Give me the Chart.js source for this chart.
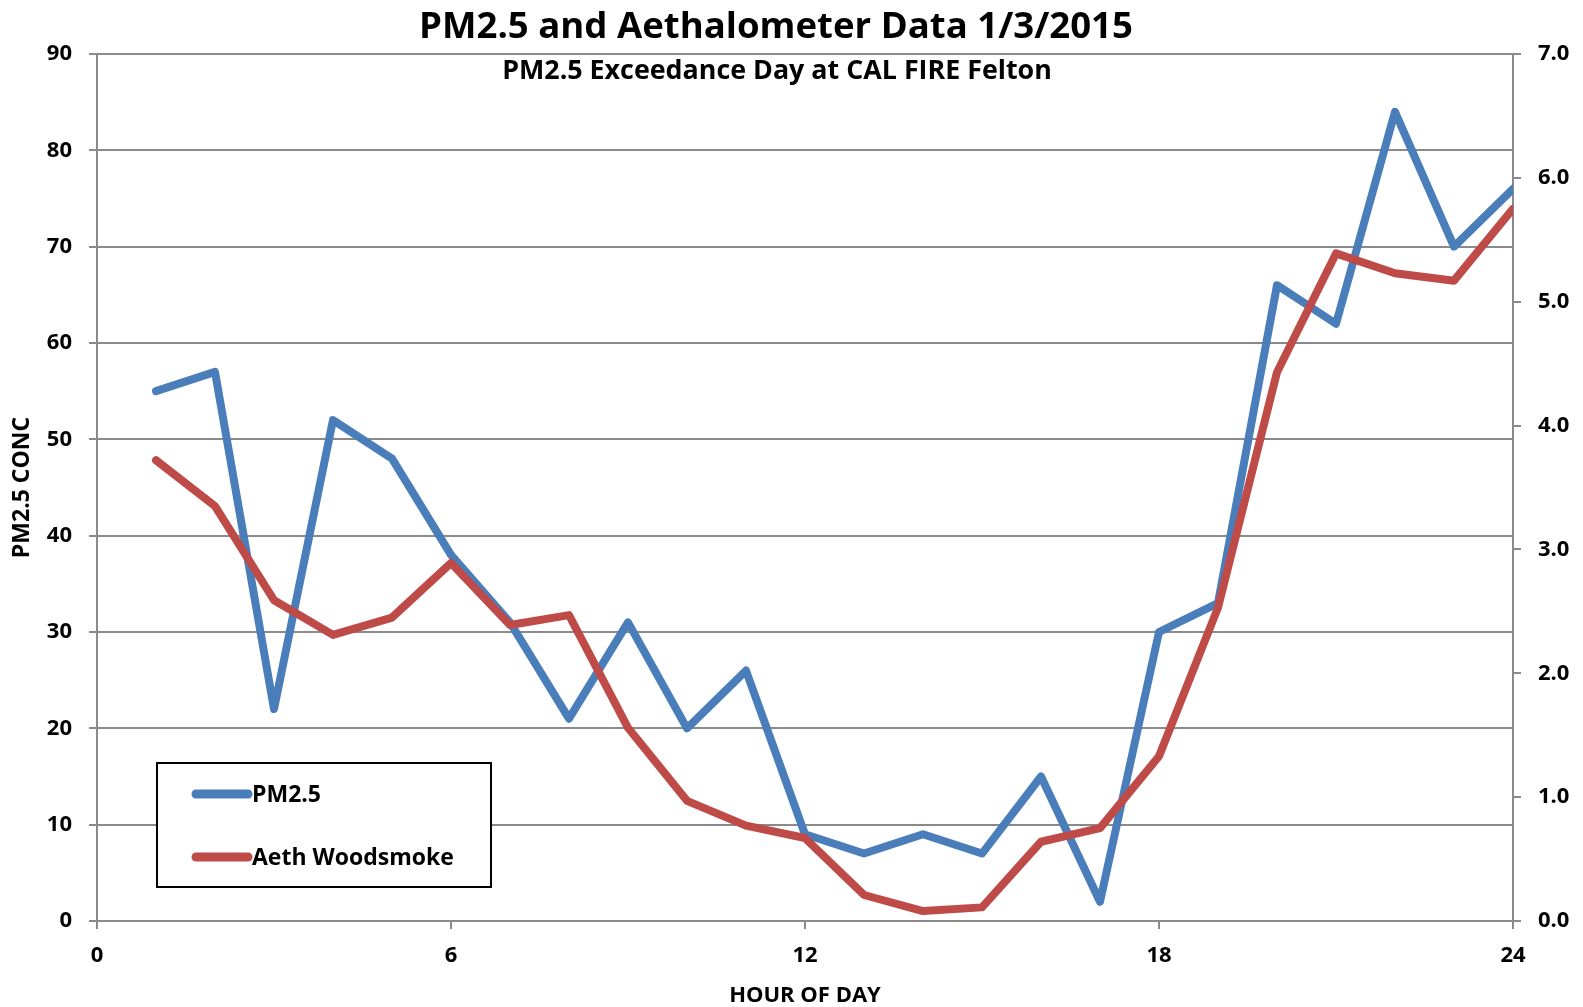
<!DOCTYPE html>
<html>
<head>
<meta charset="utf-8">
<script src="https://cdn.jsdelivr.net/npm/chart.js@4.4.1/dist/chart.umd.min.js"></script>
<style>
  html, body { margin: 0; padding: 0; background: #ffffff; }
  #wrap { position: relative; width: 1583px; height: 1007px; }
</style>
</head>
<body>
<div id="wrap"><canvas id="c" width="1583" height="1007"></canvas></div>
<script>
const titleText = 'PM2.5 and Aethalometer Data 1/3/2015';
const subtitleText = 'PM2.5 Exceedance Day at CAL FIRE Felton';
const xAxisTitle = 'HOUR OF DAY';
const yAxisTitle = 'PM2.5 CONC';
const seriesNames = ['PM2.5', 'Aeth Woodsmoke'];

const hours = [1,2,3,4,5,6,7,8,9,10,11,12,13,14,15,16,17,18,19,20,21,22,23,24];
const pm25 = [55,57,22,52,48,38,31,21,31,20,26,9,7,9,7,15,2,30,33,66,62,84,70,76];
const aeth = [3.72,3.35,2.59,2.31,2.45,2.89,2.39,2.47,1.56,0.97,0.77,0.67,0.21,0.08,0.11,0.64,0.75,1.33,2.53,4.43,5.39,5.23,5.17,5.75];

const xTicks = [0, 6, 12, 18, 24];
const leftRange = [0, 90, 10];
const rightRange = [0, 7, 1];

const BLUE = '#4A7EBB';
const RED = '#BE4B48';
const GRID = '#8a8a8a';
const FONT = '"Open Sans", "DejaVu Sans", sans-serif';

function fitFont(ctx, text, targetWidth) {
  ctx.font = 'bold 100px ' + FONT;
  const w = ctx.measureText(text).width;
  return 100 * targetWidth / w;
}

const overlay = {
  id: 'overlay',
  afterDraw(chart) {
    const ctx = chart.ctx;
    ctx.save();
    ctx.fillStyle = '#000';
    ctx.textAlign = 'center';
    ctx.textBaseline = 'alphabetic';
    let s = fitFont(ctx, titleText, 714);
    ctx.font = 'bold ' + s + 'px ' + FONT;
    ctx.fillText(titleText, 776, 38);
    s = fitFont(ctx, subtitleText, 550);
    ctx.font = 'bold ' + s + 'px ' + FONT;
    ctx.fillText(subtitleText, 777, 79);

    // legend box
    ctx.fillStyle = '#ffffff';
    ctx.fillRect(157, 763, 334, 124);
    ctx.strokeStyle = '#000';
    ctx.lineWidth = 2;
    ctx.strokeRect(157, 763, 334, 124);
    const items = [[seriesNames[0], BLUE, 794], [seriesNames[1], RED, 857]];
    ctx.font = 'bold 23px ' + FONT;
    ctx.textAlign = 'left';
    ctx.textBaseline = 'middle';
    items.forEach(([label, col, y]) => {
      ctx.strokeStyle = col;
      ctx.lineWidth = 9;
      ctx.lineCap = 'round';
      ctx.beginPath();
      ctx.moveTo(196, y);
      ctx.lineTo(248, y);
      ctx.stroke();
      ctx.fillStyle = '#000';
      ctx.fillText(label, 252, y + 1);
    });
    ctx.restore();
  }
};

const whiteBg = {
  id: 'whiteBg',
  beforeDraw(chart) {
    const ctx = chart.ctx;
    ctx.save();
    ctx.fillStyle = '#fff';
    ctx.fillRect(0, 0, chart.width, chart.height);
    ctx.restore();
  }
};

const tickFont = { family: FONT, size: 22, weight: 'bold' };

new Chart(document.getElementById('c'), {
  type: 'line',
  data: {
    datasets: [
      {
        label: seriesNames[0],
        data: hours.map((h, i) => ({ x: h, y: pm25[i] })),
        borderColor: BLUE,
        backgroundColor: BLUE,
        borderWidth: 8,
        pointRadius: 0,
        tension: 0,
        borderJoinStyle: 'round',
        borderCapStyle: 'round',
        yAxisID: 'y',
        order: 1
      },
      {
        label: seriesNames[1],
        data: hours.map((h, i) => ({ x: h, y: aeth[i] })),
        borderColor: RED,
        backgroundColor: RED,
        borderWidth: 8,
        pointRadius: 0,
        tension: 0,
        borderJoinStyle: 'round',
        borderCapStyle: 'round',
        yAxisID: 'y1',
        order: 0
      }
    ]
  },
  options: {
    responsive: false,
    animation: false,
    events: [],
    layout: { padding: { top: 54, left: 0, right: 0, bottom: 0 } },
    plugins: {
      legend: { display: false },
      title: { display: false },
      tooltip: { enabled: false }
    },
    scales: {
      x: {
        type: 'linear',
        min: xTicks[0],
        max: xTicks[xTicks.length - 1],
        afterBuildTicks(scale) { scale.ticks = xTicks.map(v => ({ value: v })); },
        afterFit(scale) { scale.height = 86; },
        ticks: { font: tickFont, color: '#000', padding: 14, maxRotation: 0 },
        grid: { display: true, drawOnChartArea: false, drawTicks: true, tickLength: 8, color: GRID, lineWidth: 2 },
        border: { display: true, color: GRID, width: 2 },
        title: { display: true, text: xAxisTitle, font: { family: FONT, size: 22, weight: 'bold', lineHeight: 1.0 }, color: '#000', padding: { top: 0, bottom: 0 } }
      },
      y: {
        type: 'linear',
        position: 'left',
        min: leftRange[0],
        max: leftRange[1],
        ticks: { stepSize: leftRange[2], font: tickFont, color: '#000', padding: 17 },
        afterFit(scale) { scale.width = 97; },
        grid: { color: GRID, lineWidth: 2, tickLength: 8, drawTicks: true },
        border: { display: true, color: GRID, width: 2 },
        title: { display: true, text: yAxisTitle, font: { family: FONT, size: 23, weight: 'bold', lineHeight: 1.2 }, color: '#000', padding: { top: 9, bottom: 0 } }
      },
      y1: {
        type: 'linear',
        position: 'right',
        min: rightRange[0],
        max: rightRange[1],
        ticks: { stepSize: rightRange[2], font: tickFont, color: '#000', padding: 17, callback: v => Number(v).toFixed(1) },
        afterFit(scale) { scale.width = 70; },
        grid: { drawOnChartArea: false, color: GRID, lineWidth: 2, tickLength: 8, drawTicks: true },
        border: { display: true, color: GRID, width: 2 }
      }
    }
  },
  plugins: [whiteBg, overlay]
});
</script>
</body>
</html>
